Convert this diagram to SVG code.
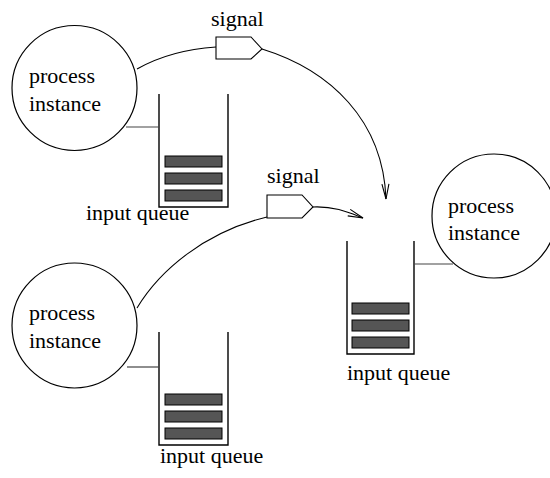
<svg xmlns="http://www.w3.org/2000/svg" width="550" height="478" viewBox="0 0 550 478">
  <style>
    .proc { fill: #ffffff; stroke: #000000; stroke-width: 1.2; }
    .queue { fill: none; stroke: #000000; stroke-width: 1.4; }
    .slot { fill: #555555; stroke: #000000; stroke-width: 1; }
    .sig { fill: #ffffff; stroke: #000000; stroke-width: 1.1; }
    .wire { fill: none; stroke: #000000; stroke-width: 1.1; }
    .link { fill: none; stroke: #444444; stroke-width: 1.2; }
    .lbl { font-family: 'Liberation Serif', 'Times New Roman', serif; font-size: 22px; fill: #000000; }
  </style>
  <defs>
    <marker id="open-arrow" markerUnits="userSpaceOnUse" markerWidth="20" markerHeight="10" refX="0" refY="0" orient="auto" overflow="visible">
      <path d="M-15,-3.5 L0,0 L-15,3.5" fill="none" stroke="#000000" stroke-width="1.1"/>
    </marker>
  </defs>

  <!-- upper left process and its queue -->
  <g id="proc-a">
    <circle class="proc" cx="74.5" cy="88" r="62.5"/>
    <text class="lbl" x="29" y="83">process</text>
    <text class="lbl" x="29" y="111">instance</text>
  </g>
  <g id="queue-a">
    <path class="queue" d="M159,94 V207 H228 V94"/>
    <rect class="slot" x="165" y="156" width="57" height="11"/>
    <rect class="slot" x="165" y="173" width="57" height="11"/>
    <rect class="slot" x="165" y="190" width="57" height="11"/>
    <text class="lbl" x="86" y="220">input queue</text>
  </g>

  <!-- lower left process and its queue -->
  <g id="proc-b">
    <circle class="proc" cx="74.5" cy="325.5" r="62.5"/>
    <text class="lbl" x="29" y="320">process</text>
    <text class="lbl" x="29" y="348">instance</text>
  </g>
  <g id="queue-b">
    <path class="queue" d="M159,332 V445 H228 V332"/>
    <rect class="slot" x="165" y="394" width="57" height="11"/>
    <rect class="slot" x="165" y="411" width="57" height="11"/>
    <rect class="slot" x="165" y="428" width="57" height="11"/>
    <text class="lbl" x="160" y="463">input queue</text>
  </g>

  <!-- right process and its queue -->
  <g id="proc-c">
    <circle class="proc" cx="494" cy="216" r="62"/>
    <text class="lbl" x="448" y="213">process</text>
    <text class="lbl" x="448" y="240">instance</text>
  </g>
  <g id="queue-c">
    <path class="queue" d="M347,241 V354 H414 V241"/>
    <rect class="slot" x="352" y="303" width="57" height="11"/>
    <rect class="slot" x="352" y="320" width="57" height="11"/>
    <rect class="slot" x="352" y="337" width="57" height="11"/>
    <text class="lbl" x="347" y="380">input queue</text>
  </g>

  <!-- signals in transit -->
  <g id="signal-a">
    <polygon class="sig" points="216,37 251,37 262,49 251,59 216,59"/>
    <text class="lbl" x="211" y="26">signal</text>
  </g>
  <g id="signal-b">
    <polygon class="sig" points="267,195 302,195 313,207 302,218 267,218"/>
    <text class="lbl" x="267" y="183">signal</text>
  </g>

  <!-- connectors -->
  <g id="connectors">
    <line class="link" x1="126" y1="127" x2="159" y2="127"/>
    <line class="link" x1="127" y1="367" x2="159" y2="367"/>
    <line class="link" x1="414" y1="264" x2="453" y2="264"/>
    <path class="wire" d="M137,69 C160,56 185,49 216,47"/>
    <path class="wire" d="M262,49 C330,70 383,120 386,199" marker-end="url(#open-arrow)"/>
    <path class="wire" d="M137,308 C160,270 205,232 267,217"/>
    <path class="wire" d="M313,207 C335,206 350,213 363,218" marker-end="url(#open-arrow)"/>
  </g>
</svg>
